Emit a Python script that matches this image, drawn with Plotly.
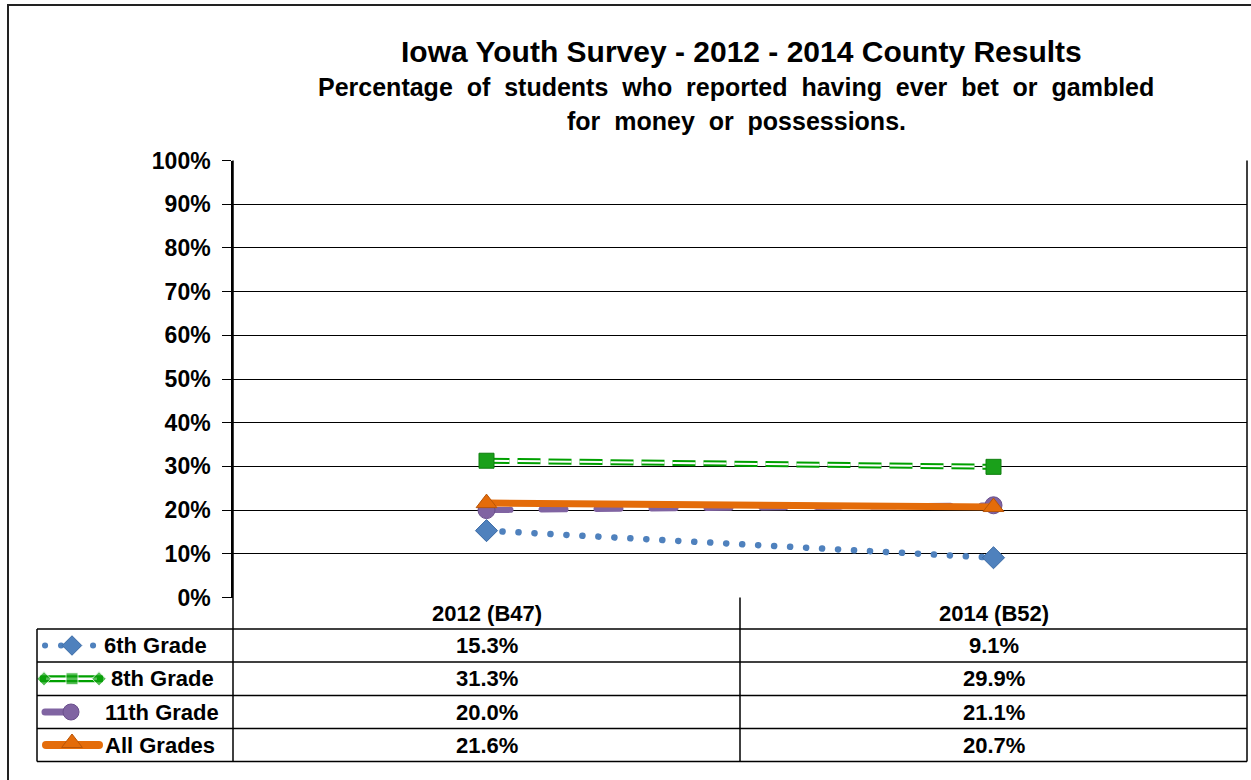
import plotly.graph_objects as go

W, H = 1251, 780

categories = ["2012 (B47)", "2014 (B52)"]
series_names = ["6th Grade", "8th Grade", "11th Grade", "All Grades"]
grade6 = [15.3, 9.1]
grade8 = [31.3, 29.9]
grade11 = [20.0, 21.1]
all_grades = [21.6, 20.7]
y_ticks = [0, 10, 20, 30, 40, 50, 60, 70, 80, 90, 100]

title_line = "Iowa Youth Survey - 2012 - 2014 County Results"
subtitle_1 = "Percentage  of  students  who  reported  having  ever  bet  or  gambled"
subtitle_2 = "for  money  or  possessions."

BLUE = "#4F81BD"
GREEN = "#00A000"
PURPLE = "#8064A2"
ORANGE = "#E46C0A"

def px(x):
    return x / W

def py(y):
    return 1 - y / H

# layout geometry (pixels)
PL, PR, PT, PB = 233, 1247, 160.5, 597.5
TL = 37
rows = [597.5, 629, 662, 695.5, 728.5, 761.5]
xs = list(range(len(categories)))

fig = go.Figure()
round_traces = []

# 11th grade (purple dashed)
round_traces.append(len(fig.data))
fig.add_trace(go.Scatter(x=xs, y=grade11, mode="lines+markers",
    line=dict(color=PURPLE, width=6, dash="24px,31px"),
    marker=dict(symbol="circle", size=17, color=PURPLE, line=dict(color="#6A4F8C", width=1)),
    showlegend=False, xaxis="x", yaxis="y"))
# 6th grade (blue dotted)
round_traces.append(len(fig.data))
fig.add_trace(go.Scatter(x=xs, y=grade6, mode="lines+markers",
    line=dict(color=BLUE, width=6.5, dash="0.1px,15.9px"),
    marker=dict(symbol="diamond", size=17, color=BLUE, line=dict(color="#3A6AA5", width=1)),
    showlegend=False, xaxis="x", yaxis="y"))
# 8th grade (green double dashed)
fig.add_trace(go.Scatter(x=xs, y=grade8, mode="lines",
    line=dict(color=GREEN, width=6, dash="23px,8px"),
    showlegend=False, xaxis="x", yaxis="y"))
fig.add_trace(go.Scatter(x=xs, y=grade8, mode="lines",
    line=dict(color="white", width=2, dash="23px,8px"),
    showlegend=False, xaxis="x", yaxis="y"))
fig.add_trace(go.Scatter(x=xs, y=grade8, mode="markers",
    marker=dict(symbol="square", size=15, color="#1AA01A", line=dict(color="#0F7F0F", width=1)),
    showlegend=False, xaxis="x", yaxis="y"))
# All grades (orange solid)
fig.add_trace(go.Scatter(x=xs, y=all_grades, mode="lines+markers",
    line=dict(color=ORANGE, width=7),
    marker=dict(symbol="triangle-up", size=18, color=ORANGE, line=dict(color="#B85508", width=1)),
    showlegend=False, xaxis="x", yaxis="y"))

# legend keys in the data-table column (auxiliary axis in pixel units)
row_c = [(rows[i + 1] + rows[i + 2]) / 2 for i in range(4)]
round_traces.append(len(fig.data))
fig.add_trace(go.Scatter(x=[45, 95], y=[row_c[0]] * 2, mode="lines",
    line=dict(color=BLUE, width=6, dash="0.1px,15.9px"), showlegend=False, xaxis="x2", yaxis="y2"))
fig.add_trace(go.Scatter(x=[72], y=[row_c[0]], mode="markers",
    marker=dict(symbol="diamond", size=15, color=BLUE, line=dict(color="#3A6AA5", width=1)),
    showlegend=False, xaxis="x2", yaxis="y2"))
fig.add_trace(go.Scatter(x=[40, 103], y=[row_c[1]] * 2, mode="lines",
    line=dict(color=GREEN, width=7), showlegend=False, xaxis="x2", yaxis="y2"))
fig.add_trace(go.Scatter(x=[46, 97], y=[row_c[1]] * 2, mode="lines",
    line=dict(color="white", width=2.5), showlegend=False, xaxis="x2", yaxis="y2"))
fig.add_trace(go.Scatter(x=[44, 72, 99], y=[row_c[1]] * 3, mode="markers",
    marker=dict(symbol=["diamond", "square", "diamond"], size=[11, 12, 11], color="#0DA00D"),
    showlegend=False, xaxis="x2", yaxis="y2"))
round_traces.append(len(fig.data))
fig.add_trace(go.Scatter(x=[45, 70], y=[row_c[2]] * 2, mode="lines",
    line=dict(color=PURPLE, width=7), showlegend=False, xaxis="x2", yaxis="y2"))
fig.add_trace(go.Scatter(x=[71], y=[row_c[2]], mode="markers",
    marker=dict(symbol="circle", size=16, color=PURPLE, line=dict(color="#6A4F8C", width=1)),
    showlegend=False, xaxis="x2", yaxis="y2"))
round_traces.append(len(fig.data))
fig.add_trace(go.Scatter(x=[46, 99], y=[row_c[3]] * 2, mode="lines",
    line=dict(color=ORANGE, width=8), showlegend=False, xaxis="x2", yaxis="y2"))
fig.add_trace(go.Scatter(x=[72], y=[row_c[3] - 2], mode="markers",
    marker=dict(symbol="triangle-up", size=18, color=ORANGE, line=dict(color="#B85508", width=1)),
    showlegend=False, xaxis="x2", yaxis="y2"))

shapes = []
def hline(x0, x1, y, w=1.5):
    shapes.append(dict(type="line", xref="paper", yref="paper", x0=px(x0), x1=px(x1),
                       y0=py(y), y1=py(y), line=dict(color="black", width=w)))
def vline(x, y0, y1, w=1.5):
    shapes.append(dict(type="line", xref="paper", yref="paper", x0=px(x), x1=px(x),
                       y0=py(y0), y1=py(y1), line=dict(color="black", width=w)))

# outer chart border
shapes.append(dict(type="rect", xref="paper", yref="paper", x0=px(8), x1=px(1262),
                   y0=py(790), y1=py(5), line=dict(color="#222222", width=2)))
# data table
for y in rows[1:]:
    hline(TL, PR, y)
vline(TL, rows[1], rows[-1])
vline(PL, PT, rows[-1])
vline(PR, PT, rows[-1])
shapes.append(dict(type="line", xref="x", yref="paper", x0=0.5, x1=0.5,
                   y0=py(rows[0]), y1=py(rows[-1]), line=dict(color="black", width=1.5)))

FONT = "Liberation Sans, Arial, sans-serif"
annotations = []
annotations.append(dict(text="<b>" + title_line + "</b>", x=px(741), y=py(52), xref="paper", yref="paper",
                        showarrow=False, font=dict(family=FONT, size=30, color="black"), xanchor="center", yanchor="middle"))
annotations.append(dict(text="<b>" + subtitle_1 + "</b>", x=px(736), y=py(87), xref="paper", yref="paper",
                        showarrow=False, font=dict(family=FONT, size=25, color="black"), xanchor="center", yanchor="middle"))
annotations.append(dict(text="<b>" + subtitle_2 + "</b>", x=px(736), y=py(121), xref="paper", yref="paper",
                        showarrow=False, font=dict(family=FONT, size=25, color="black"), xanchor="center", yanchor="middle"))

cell_font = dict(family=FONT, size=22, color="black")
for j, c in enumerate(categories):
    annotations.append(dict(text="<b>" + c + "</b>", x=j, xref="x", y=py((rows[0] + rows[1]) / 2),
                            yref="paper", showarrow=False, font=cell_font, xanchor="center", yanchor="middle"))
series_vals = [grade6, grade8, grade11, all_grades]
label_x = [102, 109, 103, 103]
for i, (name, vals) in enumerate(zip(series_names, series_vals)):
    yc = py(row_c[i])
    annotations.append(dict(text="<b>" + name + "</b>", x=px(label_x[i]), xref="paper", y=yc, yref="paper",
                            showarrow=False, font=cell_font, xanchor="left", yanchor="middle"))
    for j, v in enumerate(vals):
        annotations.append(dict(text="<b>%.1f%%</b>" % v, x=j, xref="x", y=yc, yref="paper",
                                showarrow=False, font=cell_font, xanchor="center", yanchor="middle"))

fig.update_layout(
    width=W, height=H, margin=dict(l=0, r=0, t=0, b=0, pad=0, autoexpand=False),
    paper_bgcolor="white", plot_bgcolor="white",
    xaxis=dict(domain=[px(PL), px(PR)], range=[-0.5, len(categories) - 0.5], showgrid=False,
               zeroline=False, showline=False, showticklabels=False, ticks="", fixedrange=True,
               automargin=False),
    yaxis=dict(domain=[py(PB), py(PT)], range=[0, 100], tickvals=y_ticks,
               ticktext=["<b>%d%%</b>" % t for t in y_ticks],
               showgrid=True, gridcolor="black", gridwidth=1, zeroline=False,
               showline=True, linecolor="black", linewidth=1.5,
               ticks="outside", ticklen=9, tickwidth=1, tickcolor="black",
               ticklabelstandoff=7, automargin=False, fixedrange=True,
               tickfont=dict(family=FONT, size=23, color="black")),
    xaxis2=dict(domain=[px(TL), px(PL)], range=[TL, PL], visible=False, anchor="y2", automargin=False),
    yaxis2=dict(domain=[py(rows[-1]), py(rows[1])], range=[rows[-1], rows[1]], visible=False,
                anchor="x2", automargin=False),
    shapes=shapes, annotations=annotations,
)

js = (
    "document.body.style.margin='0px';document.body.style.overflow='hidden';"
    "var rt=%s;"
    "document.querySelectorAll('.scatterlayer .trace').forEach(function(g){"
    "var d=g.__data__;if(!d||!d[0]||!d[0].trace)return;"
    "if(rt.indexOf(d[0].trace.index)>=0){g.querySelectorAll('path.js-line').forEach(function(p){"
    "p.style.strokeLinecap='round';});}});" % str(round_traces)
)
fig.write_html("out.html", config={"displayModeBar": False}, post_script=js)
